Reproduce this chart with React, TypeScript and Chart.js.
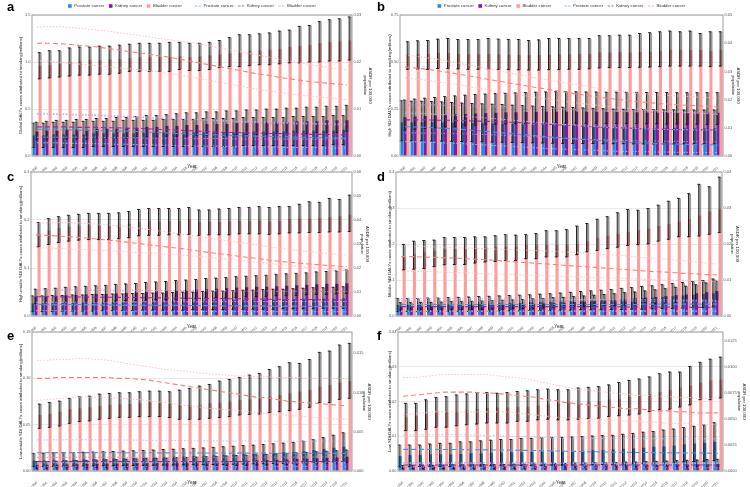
import React, { useEffect, useRef } from "react";
import { Chart, registerables } from "chart.js";
Chart.register(...registerables);

// ---------- categories ----------
const years = ["1990","1991","1992","1993","1994","1995","1996","1997","1998","1999","2000","2001","2002","2003","2004","2005","2006","2007","2008","2009","2010","2011","2012","2013","2014","2015","2016","2017","2018","2019","2020","2021"];

// ---------- panel a: Global ----------
const aProstate = [0.22,0.22,0.23,0.23,0.23,0.23,0.24,0.24, 0.24,0.24,0.24,0.25,0.25,0.25,0.25,0.25, 0.25,0.25,0.25,0.25,0.25,0.25,0.26,0.26, 0.26,0.26,0.27,0.27,0.27,0.27,0.27,0.28];
const aProstateLo = [0.09,0.09,0.09,0.09,0.09,0.09,0.10,0.10, 0.10,0.10,0.10,0.10,0.10,0.10,0.10,0.10, 0.10,0.10,0.10,0.10,0.10,0.11,0.11,0.11, 0.11,0.11,0.11,0.11,0.11,0.11,0.12,0.12];
const aProstateHi = [0.35,0.35,0.36,0.36,0.36,0.37,0.37,0.37, 0.37,0.38,0.38,0.38,0.38,0.39,0.39,0.39, 0.39,0.40,0.40,0.40,0.40,0.41,0.41,0.41, 0.41,0.41,0.42,0.42,0.42,0.42,0.43,0.43];
const aKidney = [0.26,0.27,0.27,0.28,0.28,0.28,0.29,0.29, 0.29,0.30,0.30,0.31,0.31,0.32,0.32,0.33, 0.33,0.34,0.34,0.34,0.35,0.35,0.35,0.36, 0.36,0.36,0.37,0.37,0.37,0.38,0.38,0.38];
const aKidneyLo = [0.17,0.17,0.18,0.18,0.18,0.18,0.19,0.19, 0.19,0.19,0.20,0.20,0.20,0.21,0.21,0.21, 0.22,0.22,0.22,0.22,0.23,0.23,0.23,0.23, 0.24,0.24,0.24,0.24,0.25,0.25,0.25,0.26];
const aKidneyHi = [0.36,0.37,0.38,0.38,0.39,0.39,0.40,0.40, 0.41,0.41,0.42,0.43,0.43,0.44,0.45,0.46, 0.46,0.47,0.47,0.48,0.48,0.49,0.49,0.50, 0.50,0.51,0.51,0.52,0.52,0.53,0.53,0.54];
const aBladder = [0.96,0.97,0.98,1.00,1.01,1.02,1.02,1.03, 1.03,1.04,1.05,1.05,1.05,1.05,1.06,1.05, 1.06,1.07,1.08,1.09,1.10,1.12,1.12,1.13, 1.14,1.16,1.17,1.18,1.20,1.21,1.22,1.23];
const aBladderLo = [0.82,0.83,0.84,0.85,0.86,0.86,0.87,0.87, 0.88,0.90,0.90,0.90,0.90,0.90,0.92,0.91, 0.91,0.92,0.94,0.95,0.95,0.96,0.97,0.97, 0.98,0.99,0.99,1.00,1.00,1.01,1.01,1.02];
const aBladderHi = [1.10,1.12,1.12,1.15,1.16,1.16,1.17,1.17, 1.18,1.19,1.20,1.20,1.20,1.21,1.21,1.20, 1.20,1.21,1.23,1.26,1.29,1.29,1.30,1.31, 1.33,1.34,1.38,1.39,1.43,1.45,1.46,1.48];
const aProstateAsdr = [0.0057,0.0057,0.0056,0.0056,0.0055,0.0055,0.0054,0.0054, 0.0053,0.0053,0.0052,0.0051,0.0050,0.0049,0.0048,0.0047, 0.0046,0.0046,0.0045,0.0044,0.0043,0.0043,0.0042,0.0042, 0.0041,0.0041,0.0040,0.0040,0.0039,0.0039,0.0038,0.0038];
const aProstateAsdrHi = [0.0091,0.0091,0.0090,0.0090,0.0089,0.0089,0.0088,0.0087, 0.0086,0.0085,0.0084,0.0083,0.0082,0.0081,0.0080,0.0079, 0.0078,0.0077,0.0076,0.0075,0.0074,0.0073,0.0073,0.0072, 0.0071,0.0071,0.0070,0.0070,0.0069,0.0069,0.0068,0.0068];
const aProstateAsdrLo = [0.0028,0.0028,0.0028,0.0027,0.0027,0.0027,0.0026,0.0026, 0.0025,0.0025,0.0024,0.0024,0.0023,0.0023,0.0022,0.0022, 0.0021,0.0021,0.0021,0.0020,0.0020,0.0020,0.0019,0.0019, 0.0019,0.0018,0.0018,0.0018,0.0018,0.0017,0.0017,0.0017];
const aKidneyAsdr = [0.0062,0.0062,0.0062,0.0062,0.0061,0.0061,0.0061,0.0060, 0.0060,0.0059,0.0059,0.0058,0.0057,0.0056,0.0055,0.0054, 0.0053,0.0052,0.0051,0.0050,0.0050,0.0049,0.0049,0.0048, 0.0048,0.0047,0.0047,0.0046,0.0046,0.0046,0.0045,0.0045];
const aKidneyAsdrHi = [0.0089,0.0089,0.0088,0.0088,0.0087,0.0087,0.0086,0.0085, 0.0084,0.0083,0.0082,0.0081,0.0080,0.0079,0.0078,0.0077, 0.0076,0.0075,0.0074,0.0073,0.0072,0.0071,0.0071,0.0070, 0.0069,0.0069,0.0068,0.0068,0.0067,0.0067,0.0066,0.0066];
const aKidneyAsdrLo = [0.0040,0.0040,0.0040,0.0040,0.0040,0.0040,0.0040,0.0039, 0.0039,0.0039,0.0039,0.0038,0.0038,0.0038,0.0038,0.0037, 0.0037,0.0037,0.0037,0.0037,0.0036,0.0036,0.0036,0.0036, 0.0036,0.0036,0.0036,0.0036,0.0036,0.0036,0.0036,0.0036];
const aBladderAsdr = [0.0240,0.0240,0.0239,0.0238,0.0236,0.0234,0.0232,0.0229, 0.0226,0.0223,0.0220,0.0217,0.0214,0.0211,0.0207,0.0203, 0.0199,0.0195,0.0191,0.0187,0.0183,0.0179,0.0175,0.0172, 0.0168,0.0165,0.0162,0.0159,0.0157,0.0155,0.0153,0.0151];
const aBladderAsdrHi = [0.0274,0.0275,0.0275,0.0274,0.0272,0.0270,0.0268,0.0266, 0.0263,0.0260,0.0257,0.0254,0.0251,0.0248,0.0245,0.0242, 0.0239,0.0235,0.0231,0.0227,0.0223,0.0219,0.0215,0.0211, 0.0207,0.0203,0.0199,0.0196,0.0192,0.0189,0.0186,0.0183];
const aBladderAsdrLo = [0.0203,0.0202,0.0200,0.0198,0.0196,0.0194,0.0192,0.0190, 0.0188,0.0186,0.0184,0.0182,0.0179,0.0176,0.0173,0.0170, 0.0166,0.0162,0.0158,0.0154,0.0150,0.0146,0.0142,0.0139, 0.0136,0.0133,0.0130,0.0128,0.0126,0.0124,0.0122,0.0120];

// ---------- panel b: High SDI ----------
const bProstate = [0.179,0.179,0.180,0.180,0.179,0.178,0.176,0.175, 0.174,0.173,0.172,0.170,0.168,0.166,0.165,0.164, 0.162,0.160,0.158,0.157,0.155,0.153,0.151,0.150, 0.148,0.148,0.148,0.148,0.148,0.147,0.147,0.147];
const bProstateLo = [0.080,0.080,0.080,0.079,0.079,0.078,0.077,0.076, 0.075,0.074,0.073,0.072,0.071,0.070,0.069,0.068, 0.067,0.067,0.066,0.066,0.065,0.065,0.065,0.064, 0.064,0.064,0.064,0.064,0.064,0.064,0.064,0.064];
const bProstateHi = [0.294,0.292,0.292,0.290,0.288,0.285,0.282,0.280, 0.278,0.276,0.274,0.271,0.268,0.266,0.264,0.262, 0.260,0.258,0.256,0.254,0.252,0.250,0.249,0.248, 0.247,0.246,0.246,0.246,0.245,0.245,0.245,0.245];
const bKidney = [0.206,0.210,0.213,0.216,0.219,0.222,0.224,0.226, 0.228,0.230,0.232,0.233,0.234,0.235,0.236,0.236, 0.236,0.236,0.235,0.235,0.234,0.234,0.233,0.233, 0.232,0.232,0.232,0.231,0.231,0.231,0.230,0.230];
const bKidneyLo = [0.138,0.142,0.146,0.150,0.154,0.157,0.160,0.163, 0.166,0.168,0.170,0.172,0.173,0.174,0.175,0.175, 0.175,0.175,0.174,0.174,0.173,0.173,0.172,0.172, 0.171,0.171,0.170,0.170,0.169,0.169,0.168,0.168];
const bKidneyHi = [0.298,0.303,0.308,0.312,0.316,0.320,0.324,0.327, 0.330,0.332,0.334,0.336,0.338,0.340,0.341,0.342, 0.342,0.342,0.341,0.341,0.340,0.340,0.339,0.339, 0.338,0.338,0.338,0.337,0.337,0.337,0.337,0.337];
const bBladder = [0.541,0.543,0.543,0.548,0.548,0.543,0.541,0.541, 0.543,0.541,0.539,0.537,0.537,0.537,0.539,0.539, 0.541,0.543,0.543,0.551,0.551,0.553,0.551,0.553, 0.555,0.559,0.564,0.564,0.564,0.564,0.559,0.564];
const bBladderLo = [0.461,0.463,0.461,0.465,0.466,0.463,0.461,0.461, 0.463,0.461,0.459,0.458,0.457,0.457,0.459,0.459, 0.461,0.461,0.463,0.468,0.470,0.470,0.470,0.472, 0.473,0.475,0.478,0.478,0.478,0.478,0.475,0.478];
const bBladderHi = [0.608,0.613,0.615,0.622,0.625,0.620,0.620,0.620, 0.625,0.622,0.620,0.620,0.615,0.618,0.625,0.625, 0.625,0.625,0.625,0.640,0.640,0.643,0.643,0.652, 0.656,0.661,0.665,0.661,0.665,0.652,0.661,0.661];
const bProstateAsdr = [0.0104,0.0103,0.0102,0.0100,0.0098,0.0096,0.0093,0.0090, 0.0087,0.0084,0.0081,0.0078,0.0075,0.0072,0.0069,0.0066, 0.0063,0.0060,0.0058,0.0055,0.0053,0.0051,0.0049,0.0047, 0.0046,0.0044,0.0043,0.0042,0.0041,0.0040,0.0040,0.0039];
const bProstateAsdrHi = [0.0152,0.0151,0.0150,0.0148,0.0146,0.0144,0.0141,0.0138, 0.0135,0.0132,0.0129,0.0126,0.0123,0.0120,0.0117,0.0114, 0.0111,0.0109,0.0106,0.0104,0.0102,0.0100,0.0099,0.0097, 0.0096,0.0095,0.0094,0.0093,0.0093,0.0092,0.0092,0.0092];
const bProstateAsdrLo = [0.0051,0.0050,0.0049,0.0048,0.0046,0.0045,0.0043,0.0041, 0.0039,0.0037,0.0035,0.0033,0.0031,0.0029,0.0027,0.0025, 0.0024,0.0022,0.0021,0.0020,0.0018,0.0017,0.0016,0.0016, 0.0015,0.0014,0.0014,0.0013,0.0013,0.0012,0.0012,0.0012];
const bKidneyAsdr = [0.0128,0.0128,0.0128,0.0127,0.0127,0.0126,0.0125,0.0124, 0.0123,0.0122,0.0120,0.0119,0.0117,0.0115,0.0113,0.0111, 0.0109,0.0107,0.0105,0.0103,0.0101,0.0100,0.0099,0.0097, 0.0096,0.0095,0.0094,0.0094,0.0093,0.0093,0.0092,0.0092];
const bKidneyAsdrHi = [0.0181,0.0181,0.0181,0.0181,0.0180,0.0180,0.0179,0.0178, 0.0177,0.0176,0.0175,0.0174,0.0172,0.0171,0.0169,0.0168, 0.0166,0.0165,0.0163,0.0162,0.0160,0.0159,0.0158,0.0157, 0.0156,0.0155,0.0154,0.0154,0.0153,0.0153,0.0152,0.0152];
const bKidneyAsdrLo = [0.0082,0.0082,0.0081,0.0081,0.0080,0.0079,0.0078,0.0077, 0.0076,0.0075,0.0073,0.0072,0.0070,0.0068,0.0066,0.0064, 0.0062,0.0061,0.0059,0.0058,0.0057,0.0056,0.0055,0.0054, 0.0053,0.0053,0.0052,0.0052,0.0051,0.0051,0.0050,0.0050];
const bBladderAsdr = [0.0316,0.0312,0.0308,0.0303,0.0298,0.0292,0.0286,0.0280, 0.0273,0.0267,0.0261,0.0255,0.0249,0.0243,0.0237,0.0231, 0.0226,0.0220,0.0215,0.0210,0.0205,0.0201,0.0197,0.0193, 0.0190,0.0187,0.0184,0.0182,0.0180,0.0178,0.0176,0.0174];
const bBladderAsdrHi = [0.0358,0.0354,0.0349,0.0344,0.0338,0.0332,0.0325,0.0318, 0.0311,0.0304,0.0297,0.0290,0.0283,0.0277,0.0271,0.0265, 0.0259,0.0253,0.0247,0.0241,0.0236,0.0231,0.0227,0.0223, 0.0220,0.0217,0.0215,0.0213,0.0211,0.0209,0.0207,0.0206];
const bBladderAsdrLo = [0.0277,0.0273,0.0269,0.0264,0.0259,0.0254,0.0248,0.0242, 0.0236,0.0230,0.0224,0.0219,0.0213,0.0208,0.0203,0.0198, 0.0193,0.0188,0.0184,0.0180,0.0176,0.0172,0.0169,0.0166, 0.0163,0.0160,0.0158,0.0156,0.0154,0.0152,0.0150,0.0148];

// ---------- panel c: High-middle SDI ----------
const cProstate = [0.026,0.026,0.027,0.027,0.027,0.028,0.028,0.028, 0.029,0.029,0.029,0.030,0.030,0.030,0.031,0.031, 0.031,0.032,0.032,0.032,0.033,0.033,0.033,0.034, 0.034,0.034,0.035,0.035,0.035,0.036,0.036,0.037];
const cProstateLo = [0.009,0.009,0.009,0.010,0.010,0.010,0.010,0.011, 0.011,0.011,0.011,0.012,0.012,0.012,0.012,0.012, 0.013,0.013,0.013,0.013,0.014,0.014,0.014,0.014, 0.014,0.015,0.015,0.015,0.015,0.016,0.016,0.016];
const cProstateHi = [0.042,0.042,0.043,0.043,0.044,0.044,0.045,0.045, 0.046,0.046,0.047,0.047,0.048,0.048,0.049,0.050, 0.050,0.051,0.052,0.052,0.053,0.054,0.054,0.055, 0.056,0.056,0.057,0.058,0.059,0.059,0.060,0.061];
const cKidney = [0.040,0.041,0.042,0.043,0.044,0.045,0.046,0.046, 0.047,0.048,0.049,0.050,0.051,0.052,0.053,0.054, 0.055,0.056,0.057,0.058,0.059,0.060,0.061,0.061, 0.062,0.063,0.064,0.065,0.066,0.067,0.067,0.068];
const cKidneyLo = [0.026,0.027,0.027,0.028,0.029,0.029,0.030,0.030, 0.031,0.032,0.032,0.033,0.034,0.034,0.035,0.036, 0.036,0.037,0.038,0.038,0.039,0.040,0.040,0.041, 0.042,0.042,0.043,0.044,0.045,0.045,0.046,0.047];
const cKidneyHi = [0.056,0.057,0.058,0.060,0.061,0.062,0.063,0.064, 0.066,0.067,0.068,0.070,0.071,0.072,0.074,0.075, 0.076,0.078,0.079,0.080,0.082,0.083,0.084,0.085, 0.087,0.088,0.089,0.090,0.092,0.093,0.094,0.096];
const cBladder = [0.170,0.178,0.183,0.186,0.188,0.189,0.188,0.188, 0.190,0.192,0.196,0.198,0.197,0.198,0.198,0.201, 0.195,0.196,0.196,0.197,0.198,0.198,0.199,0.197, 0.198,0.202,0.203,0.203,0.204,0.206,0.208,0.211];
const cBladderLo = [0.144,0.149,0.153,0.156,0.158,0.159,0.159,0.159, 0.161,0.163,0.167,0.168,0.168,0.169,0.169,0.170, 0.168,0.169,0.169,0.169,0.171,0.171,0.171,0.170, 0.171,0.173,0.173,0.174,0.174,0.175,0.175,0.176];
const cBladderHi = [0.195,0.203,0.207,0.210,0.212,0.214,0.214,0.214, 0.215,0.218,0.222,0.224,0.224,0.224,0.224,0.226, 0.221,0.221,0.223,0.224,0.226,0.226,0.228,0.226, 0.228,0.228,0.233,0.238,0.237,0.245,0.243,0.252];
const cProstateAsdr = [0.0049,0.0049,0.0049,0.0048,0.0048,0.0048,0.0047,0.0047, 0.0047,0.0046,0.0046,0.0046,0.0045,0.0045,0.0045,0.0044, 0.0044,0.0044,0.0043,0.0043,0.0043,0.0042,0.0042,0.0042, 0.0041,0.0041,0.0041,0.0040,0.0040,0.0040,0.0039,0.0039];
const cProstateAsdrHi = [0.0057,0.0057,0.0057,0.0057,0.0058,0.0058,0.0058,0.0058, 0.0058,0.0058,0.0058,0.0059,0.0059,0.0059,0.0059,0.0059, 0.0059,0.0059,0.0059,0.0060,0.0060,0.0060,0.0060,0.0060, 0.0060,0.0060,0.0060,0.0060,0.0060,0.0060,0.0060,0.0060];
const cProstateAsdrLo = [0.0022,0.0022,0.0022,0.0022,0.0021,0.0021,0.0021,0.0021, 0.0021,0.0020,0.0020,0.0020,0.0020,0.0020,0.0020,0.0019, 0.0019,0.0019,0.0019,0.0019,0.0019,0.0019,0.0018,0.0018, 0.0018,0.0018,0.0018,0.0018,0.0018,0.0018,0.0018,0.0018];
const cKidneyAsdr = [0.0080,0.0080,0.0080,0.0079,0.0079,0.0079,0.0078,0.0078, 0.0078,0.0077,0.0077,0.0076,0.0076,0.0075,0.0075,0.0074, 0.0074,0.0073,0.0073,0.0072,0.0072,0.0071,0.0071,0.0070, 0.0070,0.0069,0.0069,0.0069,0.0068,0.0068,0.0067,0.0067];
const cKidneyAsdrHi = [0.0108,0.0108,0.0108,0.0108,0.0108,0.0108,0.0108,0.0107, 0.0107,0.0107,0.0107,0.0107,0.0106,0.0106,0.0106,0.0106, 0.0105,0.0105,0.0105,0.0105,0.0104,0.0104,0.0104,0.0104, 0.0103,0.0103,0.0103,0.0103,0.0103,0.0102,0.0102,0.0102];
const cKidneyAsdrLo = [0.0046,0.0046,0.0046,0.0045,0.0045,0.0045,0.0045,0.0044, 0.0044,0.0044,0.0044,0.0043,0.0043,0.0043,0.0043,0.0042, 0.0042,0.0042,0.0042,0.0041,0.0041,0.0041,0.0041,0.0040, 0.0040,0.0040,0.0040,0.0040,0.0039,0.0039,0.0039,0.0039];
const cBladderAsdr = [0.0338,0.0336,0.0334,0.0331,0.0328,0.0325,0.0321,0.0317, 0.0313,0.0308,0.0303,0.0298,0.0293,0.0288,0.0283,0.0278, 0.0272,0.0266,0.0261,0.0256,0.0250,0.0245,0.0240,0.0234, 0.0229,0.0225,0.0221,0.0217,0.0214,0.0211,0.0208,0.0205];
const cBladderAsdrHi = [0.0386,0.0388,0.0389,0.0389,0.0388,0.0386,0.0383,0.0380, 0.0376,0.0372,0.0367,0.0362,0.0356,0.0350,0.0344,0.0338, 0.0332,0.0326,0.0320,0.0314,0.0308,0.0302,0.0296,0.0290, 0.0284,0.0279,0.0274,0.0269,0.0265,0.0261,0.0257,0.0254];
const cBladderAsdrLo = [0.0285,0.0284,0.0282,0.0280,0.0278,0.0276,0.0274,0.0272, 0.0270,0.0267,0.0265,0.0263,0.0261,0.0258,0.0255,0.0252, 0.0249,0.0245,0.0241,0.0237,0.0233,0.0229,0.0224,0.0220, 0.0215,0.0211,0.0207,0.0203,0.0199,0.0195,0.0191,0.0188];

// ---------- panel d: Middle SDI ----------
const dProstate = [0.031,0.031,0.031,0.031,0.032,0.032,0.033,0.033, 0.034,0.034,0.035,0.036,0.036,0.037,0.038,0.039, 0.040,0.041,0.042,0.043,0.044,0.045,0.047,0.048, 0.050,0.051,0.053,0.055,0.057,0.059,0.061,0.063];
const dProstateLo = [0.012,0.012,0.012,0.012,0.012,0.013,0.013,0.013, 0.013,0.013,0.014,0.014,0.014,0.015,0.015,0.015, 0.016,0.016,0.017,0.017,0.017,0.018,0.018,0.019, 0.019,0.020,0.021,0.021,0.022,0.023,0.024,0.025];
const dProstateHi = [0.049,0.049,0.049,0.050,0.050,0.051,0.052,0.053, 0.054,0.055,0.056,0.057,0.058,0.059,0.061,0.062, 0.064,0.066,0.068,0.070,0.072,0.074,0.077,0.079, 0.082,0.084,0.087,0.090,0.093,0.096,0.099,0.103];
const dKidney = [0.026,0.026,0.026,0.027,0.027,0.028,0.028,0.029, 0.029,0.030,0.031,0.032,0.033,0.034,0.035,0.036, 0.037,0.039,0.040,0.042,0.043,0.045,0.047,0.049, 0.051,0.053,0.055,0.058,0.060,0.063,0.066,0.069];
const dKidneyLo = [0.016,0.016,0.016,0.017,0.017,0.017,0.018,0.018, 0.018,0.019,0.019,0.020,0.021,0.021,0.022,0.023, 0.024,0.025,0.026,0.027,0.028,0.029,0.030,0.031, 0.033,0.034,0.035,0.037,0.039,0.041,0.043,0.045];
const dKidneyHi = [0.037,0.037,0.038,0.038,0.039,0.040,0.040,0.041, 0.042,0.043,0.044,0.045,0.046,0.048,0.049,0.051, 0.052,0.054,0.056,0.058,0.060,0.062,0.065,0.067, 0.070,0.073,0.076,0.080,0.083,0.087,0.092,0.097];
const dBladder = [0.165,0.172,0.177,0.181,0.185,0.186,0.187,0.188, 0.190,0.192,0.193,0.193,0.197,0.197,0.197,0.197, 0.198,0.201,0.208,0.216,0.223,0.228,0.234,0.239, 0.243,0.250,0.255,0.262,0.269,0.279,0.290,0.296];
const dBladderLo = [0.128,0.130,0.132,0.137,0.142,0.143,0.143,0.147, 0.150,0.151,0.154,0.154,0.159,0.159,0.164,0.164, 0.164,0.170,0.178,0.182,0.187,0.191,0.196,0.198, 0.200,0.208,0.213,0.220,0.220,0.222,0.227,0.232];
const dBladderHi = [0.199,0.208,0.210,0.211,0.218,0.218,0.218,0.220, 0.220,0.223,0.226,0.225,0.226,0.229,0.237,0.237, 0.240,0.250,0.257,0.269,0.276,0.287,0.296,0.294, 0.299,0.308,0.319,0.327,0.340,0.366,0.359,0.386];
const dProstateAsdr = [0.0032,0.0032,0.0032,0.0032,0.0032,0.0032,0.0032,0.0032, 0.0032,0.0032,0.0032,0.0032,0.0032,0.0032,0.0032,0.0032, 0.0032,0.0032,0.0032,0.0032,0.0032,0.0032,0.0032,0.0032, 0.0033,0.0033,0.0033,0.0033,0.0033,0.0033,0.0033,0.0033];
const dProstateAsdrHi = [0.0049,0.0049,0.0049,0.0049,0.0049,0.0048,0.0048,0.0048, 0.0048,0.0048,0.0047,0.0047,0.0047,0.0047,0.0047,0.0046, 0.0046,0.0046,0.0046,0.0046,0.0046,0.0045,0.0045,0.0045, 0.0045,0.0045,0.0045,0.0044,0.0044,0.0044,0.0044,0.0044];
const dProstateAsdrLo = [0.0014,0.0014,0.0014,0.0014,0.0014,0.0014,0.0014,0.0014, 0.0014,0.0014,0.0014,0.0014,0.0014,0.0014,0.0014,0.0014, 0.0014,0.0014,0.0014,0.0014,0.0014,0.0014,0.0014,0.0014, 0.0014,0.0014,0.0014,0.0014,0.0014,0.0014,0.0014,0.0014];
const dKidneyAsdr = [0.0026,0.0026,0.0026,0.0026,0.0026,0.0026,0.0026,0.0026, 0.0026,0.0026,0.0026,0.0026,0.0026,0.0026,0.0026,0.0026, 0.0026,0.0026,0.0026,0.0026,0.0026,0.0026,0.0025,0.0025, 0.0025,0.0025,0.0025,0.0025,0.0025,0.0024,0.0024,0.0024];
const dKidneyAsdrHi = [0.0042,0.0042,0.0042,0.0042,0.0042,0.0042,0.0042,0.0042, 0.0042,0.0042,0.0042,0.0042,0.0042,0.0042,0.0042,0.0042, 0.0042,0.0042,0.0042,0.0042,0.0042,0.0042,0.0042,0.0041, 0.0041,0.0041,0.0041,0.0041,0.0041,0.0041,0.0041,0.0041];
const dKidneyAsdrLo = [0.0013,0.0013,0.0013,0.0013,0.0013,0.0013,0.0013,0.0013, 0.0013,0.0013,0.0013,0.0013,0.0013,0.0013,0.0013,0.0013, 0.0013,0.0013,0.0013,0.0013,0.0013,0.0013,0.0013,0.0013, 0.0013,0.0013,0.0013,0.0013,0.0013,0.0013,0.0013,0.0013];
const dBladderAsdr = [0.0165,0.0165,0.0164,0.0163,0.0162,0.0161,0.0160,0.0158, 0.0157,0.0155,0.0153,0.0151,0.0149,0.0147,0.0145,0.0143, 0.0141,0.0139,0.0137,0.0135,0.0133,0.0131,0.0129,0.0127, 0.0125,0.0123,0.0122,0.0120,0.0118,0.0117,0.0115,0.0114];
const dBladderAsdrHi = [0.0194,0.0194,0.0193,0.0192,0.0191,0.0190,0.0189,0.0188, 0.0187,0.0186,0.0185,0.0184,0.0183,0.0182,0.0181,0.0180, 0.0178,0.0177,0.0175,0.0173,0.0171,0.0169,0.0167,0.0164, 0.0162,0.0160,0.0158,0.0155,0.0153,0.0150,0.0147,0.0144];
const dBladderAsdrLo = [0.0125,0.0124,0.0124,0.0123,0.0122,0.0121,0.0120,0.0119, 0.0118,0.0117,0.0116,0.0115,0.0114,0.0113,0.0112,0.0111, 0.0110,0.0109,0.0108,0.0107,0.0106,0.0105,0.0104,0.0103, 0.0102,0.0101,0.0100,0.0099,0.0098,0.0097,0.0096,0.0095];

// ---------- panel e: Low-middle SDI ----------
const eProstate = [0.0111,0.0113,0.0116,0.0118,0.0121,0.0124,0.0127,0.0130, 0.0133,0.0136,0.0140,0.0143,0.0147,0.0150,0.0154,0.0157, 0.0161,0.0165,0.0169,0.0173,0.0177,0.0182,0.0186,0.0191, 0.0196,0.0201,0.0207,0.0213,0.0226,0.0238,0.0250,0.0262];
const eProstateLo = [0.0047,0.0048,0.0049,0.0050,0.0051,0.0052,0.0053,0.0055, 0.0056,0.0057,0.0059,0.0060,0.0061,0.0063,0.0064,0.0065, 0.0067,0.0068,0.0070,0.0071,0.0073,0.0075,0.0077,0.0078, 0.0080,0.0082,0.0085,0.0087,0.0091,0.0094,0.0097,0.0101];
const eProstateHi = [0.0191,0.0194,0.0196,0.0198,0.0201,0.0203,0.0205,0.0208, 0.0212,0.0216,0.0219,0.0223,0.0227,0.0232,0.0236,0.0241, 0.0245,0.0250,0.0256,0.0262,0.0268,0.0274,0.0280,0.0287, 0.0294,0.0302,0.0310,0.0323,0.0338,0.0361,0.0387,0.0413];
const eKidney = [0.0065,0.0067,0.0069,0.0071,0.0073,0.0075,0.0077,0.0079, 0.0081,0.0083,0.0085,0.0087,0.0089,0.0091,0.0094,0.0096, 0.0098,0.0101,0.0103,0.0106,0.0108,0.0111,0.0114,0.0117, 0.0120,0.0124,0.0128,0.0132,0.0137,0.0142,0.0148,0.0155];
const eKidneyLo = [0.0030,0.0031,0.0032,0.0033,0.0034,0.0036,0.0037,0.0038, 0.0039,0.0041,0.0042,0.0043,0.0045,0.0046,0.0048,0.0049, 0.0051,0.0053,0.0055,0.0057,0.0059,0.0061,0.0063,0.0065, 0.0067,0.0070,0.0072,0.0075,0.0078,0.0081,0.0085,0.0090];
const eKidneyHi = [0.0101,0.0104,0.0107,0.0110,0.0113,0.0116,0.0119,0.0122, 0.0125,0.0128,0.0131,0.0134,0.0137,0.0140,0.0144,0.0147, 0.0151,0.0155,0.0159,0.0163,0.0167,0.0171,0.0175,0.0180, 0.0185,0.0190,0.0196,0.0202,0.0208,0.0214,0.0220,0.0227];
const eBladder = [0.0604,0.0615,0.0640,0.0665,0.0676,0.0687,0.0701,0.0712, 0.0719,0.0723,0.0730,0.0737,0.0737,0.0730,0.0712,0.0712, 0.0712,0.0730,0.0737,0.0748,0.0766,0.0773,0.0784,0.0802, 0.0820,0.0838,0.0856,0.0874,0.0910,0.0928,0.0953,0.0971];
const eBladderLo = [0.0460,0.0471,0.0485,0.0514,0.0532,0.0540,0.0558,0.0568, 0.0579,0.0579,0.0586,0.0586,0.0586,0.0576,0.0558,0.0558, 0.0558,0.0568,0.0576,0.0586,0.0604,0.0611,0.0615,0.0629, 0.0640,0.0651,0.0665,0.0687,0.0737,0.0737,0.0773,0.0784];
const eBladderHi = [0.0723,0.0741,0.0755,0.0784,0.0802,0.0809,0.0831,0.0838, 0.0845,0.0845,0.0856,0.0863,0.0863,0.0856,0.0874,0.0892, 0.0917,0.0935,0.0971,0.0989,0.1011,0.1036,0.1054,0.1097, 0.1126,0.1169,0.1162,0.1205,0.1281,0.1295,0.1360,0.1378];
const eProstateAsdr = [0.00233,0.00233,0.00234,0.00234,0.00234,0.00234,0.00234,0.00234, 0.00233,0.00233,0.00232,0.00232,0.00231,0.00231,0.00230,0.00230, 0.00229,0.00229,0.00228,0.00228,0.00228,0.00227,0.00227,0.00227, 0.00226,0.00226,0.00226,0.00226,0.00225,0.00225,0.00225,0.00225];
const eProstateAsdrHi = [0.00395,0.00396,0.00397,0.00398,0.00398,0.00398,0.00397,0.00396, 0.00395,0.00394,0.00393,0.00391,0.00390,0.00389,0.00388,0.00387, 0.00386,0.00385,0.00384,0.00383,0.00383,0.00382,0.00382,0.00381, 0.00381,0.00381,0.00380,0.00380,0.00380,0.00380,0.00380,0.00380];
const eProstateAsdrLo = [0.00106,0.00106,0.00106,0.00106,0.00106,0.00106,0.00106,0.00106, 0.00106,0.00106,0.00105,0.00105,0.00105,0.00105,0.00105,0.00105, 0.00104,0.00104,0.00104,0.00104,0.00104,0.00104,0.00104,0.00104, 0.00104,0.00104,0.00104,0.00104,0.00104,0.00104,0.00104,0.00104];
const eKidneyAsdr = [0.00119,0.00119,0.00119,0.00119,0.00119,0.00119,0.00119,0.00119, 0.00119,0.00119,0.00119,0.00119,0.00119,0.00119,0.00119,0.00119, 0.00119,0.00119,0.00119,0.00119,0.00119,0.00119,0.00119,0.00120, 0.00120,0.00120,0.00120,0.00120,0.00121,0.00121,0.00121,0.00122];
const eKidneyAsdrHi = [0.00174,0.00174,0.00174,0.00174,0.00174,0.00174,0.00174,0.00174, 0.00174,0.00174,0.00174,0.00174,0.00174,0.00174,0.00174,0.00174, 0.00175,0.00175,0.00175,0.00175,0.00175,0.00176,0.00176,0.00176, 0.00176,0.00177,0.00177,0.00177,0.00178,0.00178,0.00179,0.00179];
const eKidneyAsdrLo = [0.00055,0.00055,0.00055,0.00055,0.00055,0.00055,0.00055,0.00055, 0.00055,0.00055,0.00055,0.00055,0.00055,0.00055,0.00055,0.00055, 0.00055,0.00055,0.00055,0.00055,0.00055,0.00055,0.00056,0.00056, 0.00056,0.00056,0.00056,0.00057,0.00057,0.00057,0.00058,0.00058];
const eBladderAsdr = [0.0118,0.0118,0.0119,0.0119,0.0119,0.0119,0.0119,0.0119, 0.0118,0.0118,0.0117,0.0116,0.0114,0.0112,0.0110,0.0108, 0.0106,0.0104,0.0102,0.0100,0.0098,0.0096,0.0094,0.0093, 0.0091,0.0089,0.0088,0.0087,0.0086,0.0085,0.0084,0.0083];
const eBladderAsdrHi = [0.0141,0.0141,0.0142,0.0142,0.0143,0.0143,0.0142,0.0141, 0.0139,0.0137,0.0135,0.0133,0.0131,0.0129,0.0128,0.0127, 0.0125,0.0124,0.0123,0.0122,0.0121,0.0121,0.0120,0.0120, 0.0119,0.0119,0.0119,0.0118,0.0118,0.0118,0.0118,0.0118];
const eBladderAsdrLo = [0.0090,0.0091,0.0092,0.0093,0.0094,0.0094,0.0094,0.0094, 0.0093,0.0092,0.0091,0.0090,0.0088,0.0087,0.0085,0.0083, 0.0082,0.0080,0.0079,0.0078,0.0077,0.0076,0.0074,0.0073, 0.0072,0.0071,0.0070,0.0069,0.0068,0.0067,0.0066,0.0066];

// ---------- panel f: Low SDI ----------
const fProstate = [0.0043,0.0046,0.0046,0.0048,0.0048,0.0048,0.0049,0.0051, 0.0051,0.0052,0.0053,0.0054,0.0054,0.0055,0.0056,0.0056, 0.0056,0.0057,0.0058,0.0060,0.0060,0.0062,0.0064,0.0065, 0.0067,0.0070,0.0071,0.0073,0.0077,0.0079,0.0081,0.0084];
const fProstateLo = [0.0012,0.0012,0.0013,0.0013,0.0013,0.0013,0.0014,0.0014, 0.0014,0.0015,0.0015,0.0015,0.0016,0.0016,0.0016,0.0017, 0.0017,0.0017,0.0018,0.0018,0.0019,0.0019,0.0020,0.0021, 0.0021,0.0022,0.0023,0.0024,0.0026,0.0027,0.0028,0.0030];
const fProstateHi = [0.0075,0.0075,0.0075,0.0078,0.0080,0.0080,0.0084,0.0084, 0.0087,0.0089,0.0091,0.0091,0.0094,0.0094,0.0096,0.0097, 0.0097,0.0098,0.0099,0.0101,0.0102,0.0103,0.0106,0.0108, 0.0112,0.0114,0.0118,0.0121,0.0125,0.0129,0.0133,0.0139];
const fKidney = [0.0012,0.0012,0.0012,0.0012,0.0012,0.0012,0.0013,0.0013, 0.0013,0.0013,0.0013,0.0013,0.0014,0.0014,0.0014,0.0014, 0.0014,0.0015,0.0015,0.0015,0.0015,0.0016,0.0016,0.0016, 0.0017,0.0017,0.0017,0.0018,0.0018,0.0019,0.0019,0.0020];
const fKidneyLo = [0.0007,0.0007,0.0007,0.0007,0.0007,0.0007,0.0008,0.0008, 0.0008,0.0008,0.0008,0.0008,0.0008,0.0008,0.0009,0.0009, 0.0009,0.0009,0.0009,0.0009,0.0010,0.0010,0.0010,0.0010, 0.0010,0.0011,0.0011,0.0011,0.0011,0.0012,0.0012,0.0012];
const fKidneyHi = [0.0016,0.0016,0.0017,0.0017,0.0017,0.0018,0.0018,0.0018, 0.0019,0.0019,0.0019,0.0020,0.0020,0.0021,0.0021,0.0022, 0.0022,0.0023,0.0023,0.0024,0.0024,0.0025,0.0026,0.0026, 0.0027,0.0028,0.0029,0.0030,0.0031,0.0032,0.0033,0.0034];
const fBladder = [0.0154,0.0158,0.0163,0.0168,0.0171,0.0173,0.0176,0.0178, 0.0181,0.0183,0.0183,0.0184,0.0184,0.0189,0.0191,0.0194, 0.0196,0.0196,0.0199,0.0201,0.0206,0.0208,0.0213,0.0216, 0.0221,0.0227,0.0233,0.0240,0.0246,0.0254,0.0261,0.0263];
const fBladderLo = [0.0116,0.0116,0.0120,0.0126,0.0126,0.0130,0.0133,0.0135, 0.0138,0.0138,0.0138,0.0143,0.0143,0.0147,0.0149,0.0147, 0.0147,0.0149,0.0151,0.0152,0.0157,0.0159,0.0161,0.0164, 0.0171,0.0176,0.0178,0.0184,0.0190,0.0205,0.0205,0.0210];
const fBladderHi = [0.0195,0.0195,0.0205,0.0212,0.0214,0.0219,0.0222,0.0226, 0.0226,0.0224,0.0226,0.0229,0.0231,0.0234,0.0236,0.0234, 0.0234,0.0239,0.0241,0.0243,0.0248,0.0255,0.0261,0.0265, 0.0271,0.0280,0.0285,0.0285,0.0301,0.0313,0.0322,0.0328];
const fProstateAsdr = [0.00208,0.00208,0.00208,0.00208,0.00207,0.00207,0.00206,0.00205, 0.00204,0.00203,0.00202,0.00200,0.00199,0.00197,0.00195,0.00193, 0.00191,0.00189,0.00187,0.00185,0.00183,0.00181,0.00180,0.00179, 0.00178,0.00177,0.00176,0.00175,0.00174,0.00173,0.00172,0.00171];
const fProstateAsdrHi = [0.00346,0.00347,0.00348,0.00349,0.00350,0.00350,0.00349,0.00347, 0.00344,0.00341,0.00337,0.00333,0.00329,0.00325,0.00322,0.00320, 0.00318,0.00317,0.00316,0.00315,0.00314,0.00313,0.00312,0.00312, 0.00311,0.00311,0.00311,0.00310,0.00310,0.00310,0.00310,0.00310];
const fProstateAsdrLo = [0.00074,0.00074,0.00074,0.00074,0.00074,0.00074,0.00074,0.00074, 0.00074,0.00074,0.00074,0.00073,0.00073,0.00073,0.00073,0.00073, 0.00073,0.00073,0.00073,0.00073,0.00073,0.00073,0.00073,0.00073, 0.00073,0.00073,0.00073,0.00073,0.00073,0.00073,0.00073,0.00073];
const fKidneyAsdr = [0.00058,0.00058,0.00058,0.00058,0.00058,0.00058,0.00058,0.00058, 0.00058,0.00058,0.00058,0.00058,0.00058,0.00058,0.00058,0.00058, 0.00058,0.00058,0.00058,0.00058,0.00058,0.00058,0.00058,0.00058, 0.00058,0.00058,0.00058,0.00058,0.00058,0.00058,0.00058,0.00058];
const fKidneyAsdrHi = [0.00080,0.00080,0.00080,0.00080,0.00080,0.00080,0.00080,0.00080, 0.00080,0.00080,0.00080,0.00080,0.00080,0.00080,0.00080,0.00080, 0.00080,0.00080,0.00080,0.00080,0.00080,0.00080,0.00080,0.00080, 0.00080,0.00080,0.00080,0.00080,0.00080,0.00080,0.00080,0.00080];
const fKidneyAsdrLo = [0.00036,0.00036,0.00036,0.00036,0.00036,0.00036,0.00036,0.00036, 0.00036,0.00036,0.00036,0.00036,0.00036,0.00036,0.00036,0.00036, 0.00036,0.00036,0.00036,0.00036,0.00036,0.00036,0.00036,0.00036, 0.00036,0.00036,0.00036,0.00036,0.00036,0.00036,0.00036,0.00036];
const fBladderAsdr = [0.0072,0.0073,0.0074,0.0075,0.0076,0.0076,0.0076,0.0076, 0.0075,0.0075,0.0074,0.0073,0.0072,0.0071,0.0069,0.0068, 0.0066,0.0065,0.0064,0.0063,0.0062,0.0061,0.0060,0.0060, 0.0059,0.0058,0.0058,0.0057,0.0057,0.0056,0.0056,0.0056];
const fBladderAsdrHi = [0.0090,0.0090,0.0091,0.0092,0.0093,0.0093,0.0093,0.0093, 0.0093,0.0092,0.0091,0.0090,0.0089,0.0087,0.0085,0.0083, 0.0081,0.0079,0.0078,0.0077,0.0076,0.0075,0.0074,0.0073, 0.0073,0.0072,0.0072,0.0071,0.0071,0.0070,0.0070,0.0070];
const fBladderAsdrLo = [0.0054,0.0055,0.0056,0.0057,0.0057,0.0057,0.0057,0.0057, 0.0057,0.0057,0.0057,0.0056,0.0055,0.0054,0.0053,0.0052, 0.0051,0.0051,0.0050,0.0050,0.0049,0.0049,0.0048,0.0048, 0.0047,0.0047,0.0046,0.0046,0.0046,0.0045,0.0045,0.0045];

// ---------- axis ticks ----------
const aLeftTicks = [0, 0.5, 1.0, 1.5];
const aRightTicks = [0, 0.01, 0.02, 0.03];
const bLeftTicks = [0, 0.25, 0.5, 0.75];
const bRightTicks = [0, 0.01, 0.02, 0.03, 0.04, 0.05];
const cLeftTicks = [0, 0.1, 0.2, 0.3];
const cRightTicks = [0, 0.01, 0.02, 0.03, 0.04, 0.05, 0.06];
const dLeftTicks = [0, 0.1, 0.2, 0.3, 0.4];
const dRightTicks = [0, 0.01, 0.02, 0.03, 0.04];
const eLeftTicks = [0, 0.05, 0.10, 0.15];
const eRightTicks = [0, 0.005, 0.010, 0.015];
const fLeftTicks = [0, 0.01, 0.02, 0.03, 0.04];
const fRightTicks = [0, 0.0025, 0.005, 0.0075, 0.01, 0.0125];

const seriesNames = ["Prostate cancer", "Kidney cancer", "Bladder cancer"];
const rightTitle = ["ASDR per 100,000", "population"];

// ---------- styling ----------
const FONT = "'Liberation Sans', Arial, sans-serif";
const BAR_COLORS = ["#2389e3", "#7b1fa2", "#ff9d9d"];
const LINE_MID = ["#3d9be9", "#8e2bb0", "#ff7d7d"];
const LINE_BOUND = ["#9ccbf3", "#c48ad8", "#ffbcbc"];
const LEGEND_LINE = ["#8cc3f0", "#a765c4", "#ffb0b0"];
const TITLE_FS = 4.3;
const TICK_FS = 4;

type PanelCfg = {
  letter: string; x0: number; y0: number; w: number; h: number;
  area: number[]; leftTitleX: number; rightTitleX: number; yearPad: number;
  letterX: number; letterY: number; legend: boolean; yTitle: string;
  yMax: number; yTicks: number[]; yDec: number;
  y2Max: number; y2Ticks: number[]; y2Dec: number;
  bars: number[][][]; lines: number[][][];
};

const panels: PanelCfg[] = [
  { letter: "a", x0: 0, y0: 0, w: 375, h: 172, area: [32, 15, 352, 156], leftTitleX: 20.5, rightTitleX: 370, yearPad: 2.7,
    letterX: 7, letterY: 10.5, legend: true, yTitle: "Global DALYs cases attributed to smoking(millions)",
    yMax: 1.5, yTicks: aLeftTicks, yDec: 1, y2Max: 0.03, y2Ticks: aRightTicks, y2Dec: 2,
    bars: [[aProstate, aProstateLo, aProstateHi], [aKidney, aKidneyLo, aKidneyHi], [aBladder, aBladderLo, aBladderHi]],
    lines: [[aProstateAsdr, aProstateAsdrLo, aProstateAsdrHi], [aKidneyAsdr, aKidneyAsdrLo, aKidneyAsdrHi], [aBladderAsdr, aBladderAsdrLo, aBladderAsdrHi]] },
  { letter: "b", x0: 375, y0: 0, w: 375, h: 172, area: [25, 15, 348, 156], leftTitleX: 15, rightTitleX: 363, yearPad: 2.7,
    letterX: 2, letterY: 10.5, legend: true, yTitle: "High SDI DALYs cases attributed to smoking(millions)",
    yMax: 0.75, yTicks: bLeftTicks, yDec: 2, y2Max: 0.05, y2Ticks: bRightTicks, y2Dec: 2,
    bars: [[bProstate, bProstateLo, bProstateHi], [bKidney, bKidneyLo, bKidneyHi], [bBladder, bBladderLo, bBladderHi]],
    lines: [[bProstateAsdr, bProstateAsdrLo, bProstateAsdrHi], [bKidneyAsdr, bKidneyAsdrLo, bKidneyAsdrHi], [bBladderAsdr, bBladderAsdrLo, bBladderAsdrHi]] },
  { letter: "c", x0: 0, y0: 164, w: 375, h: 168, area: [31, 8, 352, 152], leftTitleX: 20.5, rightTitleX: 367, yearPad: 2.2,
    letterX: 7, letterY: 17, legend: false, yTitle: "High-middle SDI DALYs cases attributed to smoking(millions)",
    yMax: 0.3, yTicks: cLeftTicks, yDec: 1, y2Max: 0.06, y2Ticks: cRightTicks, y2Dec: 2,
    bars: [[cProstate, cProstateLo, cProstateHi], [cKidney, cKidneyLo, cKidneyHi], [cBladder, cBladderLo, cBladderHi]],
    lines: [[cProstateAsdr, cProstateAsdrLo, cProstateAsdrHi], [cKidneyAsdr, cKidneyAsdrLo, cKidneyAsdrHi], [cBladderAsdr, cBladderAsdrLo, cBladderAsdrHi]] },
  { letter: "d", x0: 375, y0: 164, w: 375, h: 168, area: [21, 8, 347, 152], leftTitleX: 15, rightTitleX: 362, yearPad: 2.2,
    letterX: 2, letterY: 17, legend: false, yTitle: "Middle SDI DALYs cases attributed to smoking(millions)",
    yMax: 0.4, yTicks: dLeftTicks, yDec: 1, y2Max: 0.04, y2Ticks: dRightTicks, y2Dec: 2,
    bars: [[dProstate, dProstateLo, dProstateHi], [dKidney, dKidneyLo, dKidneyHi], [dBladder, dBladderLo, dBladderHi]],
    lines: [[dProstateAsdr, dProstateAsdrLo, dProstateAsdrHi], [dKidneyAsdr, dKidneyAsdrLo, dKidneyAsdrHi], [dBladderAsdr, dBladderAsdrLo, dBladderAsdrHi]] },
  { letter: "e", x0: 0, y0: 326, w: 375, h: 161, area: [32, 6, 352, 145], leftTitleX: 20.5, rightTitleX: 369, yearPad: 1.7,
    letterX: 7, letterY: 13.5, legend: false, yTitle: "Low-middle SDI DALYs cases attributed to smoking(millions)",
    yMax: 0.15, yTicks: eLeftTicks, yDec: 2, y2Max: 0.0177, y2Ticks: eRightTicks, y2Dec: 3,
    bars: [[eProstate, eProstateLo, eProstateHi], [eKidney, eKidneyLo, eKidneyHi], [eBladder, eBladderLo, eBladderHi]],
    lines: [[eProstateAsdr, eProstateAsdrLo, eProstateAsdrHi], [eKidneyAsdr, eKidneyAsdrLo, eKidneyAsdrHi], [eBladderAsdr, eBladderAsdrLo, eBladderAsdrHi]] },
  { letter: "f", x0: 375, y0: 326, w: 375, h: 161, area: [23, 6, 348, 145], leftTitleX: 15, rightTitleX: 369, yearPad: 1.7,
    letterX: 2, letterY: 13.5, legend: false, yTitle: "Low SDI DALYs cases attributed to smoking(millions)",
    yMax: 0.04, yTicks: fLeftTicks, yDec: 2, y2Max: 0.0134, y2Ticks: fRightTicks, y2Dec: 4,
    bars: [[fProstate, fProstateLo, fProstateHi], [fKidney, fKidneyLo, fKidneyHi], [fBladder, fBladderLo, fBladderHi]],
    lines: [[fProstateAsdr, fProstateAsdrLo, fProstateAsdrHi], [fKidneyAsdr, fKidneyAsdrLo, fKidneyAsdrHi], [fBladderAsdr, fBladderAsdrLo, fBladderAsdrHi]] },
];

function buildChart(canvas: HTMLCanvasElement, cfg: PanelCfg) {
  const lh = TITLE_FS * 1.2;
  const padL = cfg.leftTitleX - lh / 2;
  const padR = cfg.w - cfg.rightTitleX - lh / 2;
  const [aL, aT, aR, aB] = cfg.area;

  const datasets: any[] = [];
  cfg.bars.forEach((b, i) => {
    datasets.push({
      type: "bar", label: seriesNames[i], data: b[0], errLo: b[1], errHi: b[2],
      backgroundColor: BAR_COLORS[i], borderWidth: 0, yAxisID: "y", order: 2,
      categoryPercentage: 0.92, barPercentage: 1.0,
    });
  });
  cfg.lines.forEach((l, i) => {
    const common = { type: "line", yAxisID: "y2", pointRadius: 0, fill: false, tension: 0.35, order: 1 };
    datasets.push({ ...common, label: seriesNames[i] + " upper", data: l[2], borderColor: LINE_BOUND[i], borderWidth: 0.9, borderDash: [1.6, 1.6] });
    datasets.push({ ...common, label: seriesNames[i] + " lower", data: l[1], borderColor: LINE_BOUND[i], borderWidth: 0.9, borderDash: [1.6, 1.6] });
    datasets.push({ ...common, label: seriesNames[i], data: l[0], borderColor: LINE_MID[i], borderWidth: 1.1, borderDash: [5, 3] });
  });

  const panelPlugin = {
    id: "panelDeco",
    afterDatasetDraw(chart: any, args: any) {
      const ds = chart.data.datasets[args.index];
      if (!ds.errLo) return;
      const ctx = chart.ctx;
      const ys = chart.scales.y;
      ctx.save();
      args.meta.data.forEach((el: any, j: number) => {
        const yl = ys.getPixelForValue(ds.errLo[j]);
        const yh = ys.getPixelForValue(ds.errHi[j]);
        const cx = el.x;
        const bw = el.width;
        ctx.fillStyle = "rgba(45,45,45,0.5)";
        ctx.fillRect(cx - 0.6, yh, bw / 2 + 0.6, yl - yh);
        ctx.fillStyle = "#111";
        ctx.fillRect(cx - 1.4, yh, 0.9, yl - yh);
        ctx.fillRect(cx - 2.3, yh - 0.4, 2.8, 0.9);
        ctx.fillRect(cx - 2.3, yl - 0.5, 2.8, 0.9);
      });
      ctx.restore();
    },
    afterDraw(chart: any) {
      const ctx = chart.ctx;
      const ca = chart.chartArea;
      ctx.save();
      ctx.strokeStyle = "#a6a6a6";
      ctx.lineWidth = 1.1;
      ctx.strokeRect(ca.left, ca.top, ca.right - ca.left, ca.bottom - ca.top);
      ctx.fillStyle = "#000";
      ctx.font = "bold 13px " + FONT;
      ctx.textBaseline = "alphabetic";
      ctx.textAlign = "left";
      ctx.fillText(cfg.letter, cfg.letterX, cfg.letterY);
      if (cfg.legend) {
        ctx.font = "4.3px " + FONT;
        ctx.textBaseline = "middle";
        const cy = 6;
        const box = 3.6, gapBT = 2.6, gapItem = 4.5, groupGap = 13, lineLen = 6;
        const items: { kind: string; i: number; tw: number }[] = [];
        for (let i = 0; i < 3; i++) items.push({ kind: "bar", i, tw: ctx.measureText(seriesNames[i]).width });
        for (let i = 0; i < 3; i++) items.push({ kind: "line", i, tw: ctx.measureText(seriesNames[i]).width });
        let total = 0;
        items.forEach((it, k) => {
          total += (it.kind === "bar" ? box : lineLen) + gapBT + it.tw;
          if (k < items.length - 1) total += k === 2 ? groupGap : gapItem;
        });
        let x = (ca.left + ca.right) / 2 - total / 2;
        items.forEach((it, k) => {
          if (it.kind === "bar") {
            ctx.fillStyle = BAR_COLORS[it.i];
            ctx.fillRect(x, cy - box / 2, box, box);
            x += box + gapBT;
          } else {
            ctx.strokeStyle = LEGEND_LINE[it.i];
            ctx.lineWidth = 1;
            ctx.setLineDash([2.5, 1.2]);
            ctx.beginPath();
            ctx.moveTo(x, cy);
            ctx.lineTo(x + lineLen, cy);
            ctx.stroke();
            ctx.setLineDash([]);
            x += lineLen + gapBT;
          }
          ctx.fillStyle = "#333";
          ctx.fillText(seriesNames[it.i], x, cy);
          x += it.tw + (k === 2 ? groupGap : gapItem);
        });
      }
      ctx.restore();
    },
  };

  const yTitleCfg = { display: true, text: cfg.yTitle, font: { size: TITLE_FS, family: FONT }, color: "#222", padding: 0 };

  return new Chart(canvas, {
    type: "bar",
    data: { labels: years, datasets },
    options: {
      responsive: false,
      animation: false,
      devicePixelRatio: 1,
      layout: { padding: { left: padL, right: padR, top: aT, bottom: 0 } },
      plugins: { legend: { display: false }, tooltip: { enabled: false } },
      scales: {
        x: {
          type: "category", offset: true,
          grid: { display: false }, border: { display: false },
          ticks: { autoSkip: false, maxRotation: 45, minRotation: 45, font: { size: 3.6, family: FONT }, color: "#555", padding: 1.5 },
          title: { display: true, text: "Year", font: { size: 4.6, family: FONT }, color: "#222", padding: { top: 0, bottom: cfg.yearPad } },
          afterFit: (s: any) => { s.height = cfg.h - aB; },
        },
        y: {
          position: "left", min: 0, max: cfg.yMax,
          grid: { color: "#e3e3e3", lineWidth: 0.8, drawTicks: false }, border: { display: false },
          ticks: { font: { size: TICK_FS, family: FONT }, color: "#555", padding: 1.5, callback: (v: any) => Number(v).toFixed(cfg.yDec) },
          afterBuildTicks: (s: any) => { s.ticks = cfg.yTicks.map((v) => ({ value: v })); },
          title: yTitleCfg,
          afterFit: (s: any) => { s.width = aL - padL; },
        },
        y2: {
          position: "right", min: 0, max: cfg.y2Max,
          grid: { display: false, drawTicks: false }, border: { display: false },
          ticks: { font: { size: TICK_FS, family: FONT }, color: "#555", padding: 1.5, callback: (v: any) => Number(v).toFixed(cfg.y2Dec) },
          afterBuildTicks: (s: any) => { s.ticks = cfg.y2Ticks.map((v) => ({ value: v })); },
          title: { display: true, text: rightTitle, font: { size: TITLE_FS, family: FONT }, color: "#222", padding: 0 },
          afterFit: (s: any) => { s.width = (cfg.w - padR) - aR; },
        },
      },
    } as any,
    plugins: [panelPlugin],
  } as any);
}

function Panel({ cfg }: { cfg: PanelCfg }) {
  const ref = useRef<HTMLCanvasElement>(null);
  useEffect(() => {
    if (!ref.current) return;
    const chart = buildChart(ref.current, cfg);
    return () => chart.destroy();
  }, [cfg]);
  return (
    <div style={{ position: "absolute", left: cfg.x0, top: cfg.y0, width: cfg.w, height: cfg.h, pointerEvents: "none" }}>
      <canvas ref={ref} width={cfg.w} height={cfg.h} style={{ width: cfg.w, height: cfg.h, display: "block" }} />
    </div>
  );
}

export default function App() {
  return (
    <div style={{ position: "absolute", left: 0, top: 0, width: 750, height: 487, background: "#fff", overflow: "hidden" }}>
      {panels.map((p) => (
        <Panel key={p.letter} cfg={p} />
      ))}
    </div>
  );
}
